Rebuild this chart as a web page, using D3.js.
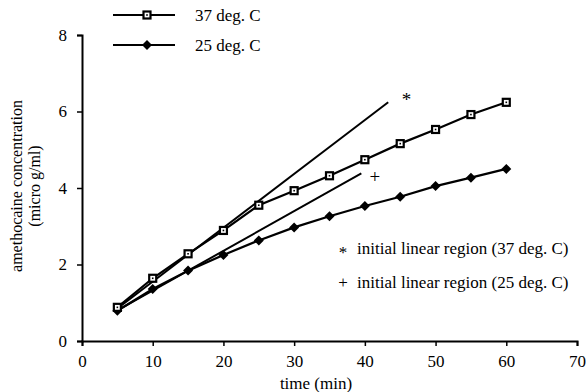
<!DOCTYPE html>
<html>
<head>
<meta charset="utf-8">
<script src="https://cdn.jsdelivr.net/npm/d3@7"></script>
<style>
  body { margin: 0; background: #fff; }
  svg { display: block; }
  svg text { font-family: "Liberation Serif", "DejaVu Serif", serif; }
</style>
</head>
<body>
<div id="chart"></div>
<script>
const times = [5, 10, 15, 20, 25, 30, 35, 40, 45, 50, 55, 60];
const conc37 = [0.88, 1.64, 2.28, 2.89, 3.55, 3.93, 4.32, 4.74, 5.16, 5.53, 5.92, 6.24];
const conc25 = [0.79, 1.36, 1.84, 2.25, 2.63, 2.97, 3.26, 3.53, 3.77, 4.05, 4.27, 4.5];
const fit37 = [[5, 0.85], [43.3, 6.24]];
const fit25 = [[5, 0.8], [39.5, 4.38]];
const xTicks = [0, 10, 20, 30, 40, 50, 60, 70];
const yTicks = [0, 2, 4, 6, 8];
const notes = ['initial linear region (37 deg. C)', 'initial linear region (25 deg. C)'];

const width = 586;
const height = 392;

const x = d3.scaleLinear().domain([0, 70]).range([82, 577]);
const y = d3.scaleLinear().domain([0, 8]).range([341, 35]);

const svg = d3.select('#chart')
  .append('svg')
  .attr('width', width)
  .attr('height', height);

// axes
const xAxis = svg.append('g')
  .attr('transform', `translate(0,${y(0)})`)
  .call(d3.axisBottom(x).tickValues(xTicks).tickSize(5).tickPadding(9));
const yAxis = svg.append('g')
  .attr('transform', `translate(${x(0)},0)`)
  .call(d3.axisLeft(y).tickValues(yTicks).tickSize(5).tickPadding(10));

[xAxis, yAxis].forEach(a => {
  a.attr('font-family', '"Liberation Serif", serif').attr('font-size', 17);
  a.select('.domain').attr('stroke', '#000').attr('stroke-width', 2);
  a.selectAll('.tick line').attr('stroke', '#000').attr('stroke-width', 1.5);
  a.selectAll('.tick text').attr('fill', '#000');
});

svg.append('text')
  .attr('x', 316)
  .attr('y', 389)
  .attr('text-anchor', 'middle')
  .style('font-size', '17px')
  .text('time (min)');

const yTitle = svg.append('text')
  .attr('transform', 'translate(22,186) rotate(-90)')
  .attr('text-anchor', 'middle')
  .style('font-size', '16px');
yTitle.append('tspan').attr('x', 0).attr('dy', 0).text('amethocaine concentration');
yTitle.append('tspan').attr('x', 0).attr('dy', 18).text('(micro g/ml)');

const line = d3.line()
  .x(d => x(d[0]))
  .y(d => y(d[1]));

// fitted linear regions
[fit37, fit25].forEach(f => {
  svg.append('path')
    .datum(f)
    .attr('d', line)
    .attr('fill', 'none')
    .attr('stroke', '#000')
    .attr('stroke-width', 2);
});

const pts37 = times.map((t, i) => [t, conc37[i]]);
const pts25 = times.map((t, i) => [t, conc25[i]]);

[pts37, pts25].forEach(p => {
  svg.append('path')
    .datum(p)
    .attr('d', line)
    .attr('fill', 'none')
    .attr('stroke', '#000')
    .attr('stroke-width', 2.2);
});

function square(g, cx, cy) {
  g.append('rect')
    .attr('x', cx - 3.5).attr('y', cy - 3.5)
    .attr('width', 7).attr('height', 7)
    .attr('fill', '#fff')
    .attr('stroke', '#000')
    .attr('stroke-width', 2.2);
  g.append('rect')
    .attr('x', cx - 0.8).attr('y', cy - 0.8)
    .attr('width', 1.6).attr('height', 1.6)
    .attr('fill', '#000');
}

function diamond(g, cx, cy) {
  g.append('path')
    .attr('d', `M${cx},${cy - 5}L${cx + 5},${cy}L${cx},${cy + 5}L${cx - 5},${cy}Z`)
    .attr('fill', '#000');
}

const marks = svg.append('g');
pts25.forEach(d => diamond(marks, x(d[0]), y(d[1])));
pts37.forEach(d => square(marks, x(d[0]), y(d[1])));

// fit labels
svg.append('text')
  .attr('x', x(45.9)).attr('y', y(6.4) + 10)
  .attr('text-anchor', 'middle')
  .style('font-size', '19px')
  .text('*');
svg.append('text')
  .attr('x', x(41.4)).attr('y', y(4.29) + 6)
  .attr('text-anchor', 'middle')
  .style('font-size', '19px')
  .text('+');

// notes
const noteSyms = ['*', '+'];
notes.forEach((n, i) => {
  const ny = 254 + i * 34;
  svg.append('text')
    .attr('x', 343).attr('y', ny + (i === 0 ? 4 : 0))
    .attr('text-anchor', 'middle')
    .style('font-size', '17px')
    .text(noteSyms[i]);
  svg.append('text')
    .attr('x', 357).attr('y', ny)
    .style('font-size', '17px')
    .text(n);
});

// legend
const legend = svg.append('g');
const legendItems = ['37 deg. C', '25 deg. C'];
legendItems.forEach((label, i) => {
  const ly = 15 + i * 30;
  legend.append('line')
    .attr('x1', 113).attr('x2', 175)
    .attr('y1', ly).attr('y2', ly)
    .attr('stroke', '#000')
    .attr('stroke-width', 2);
  if (i === 0) square(legend, 147, ly); else diamond(legend, 147, ly);
  legend.append('text')
    .attr('x', 195).attr('y', ly + 6)
    .style('font-size', '17px')
    .text(label);
});
</script>
</body>
</html>
